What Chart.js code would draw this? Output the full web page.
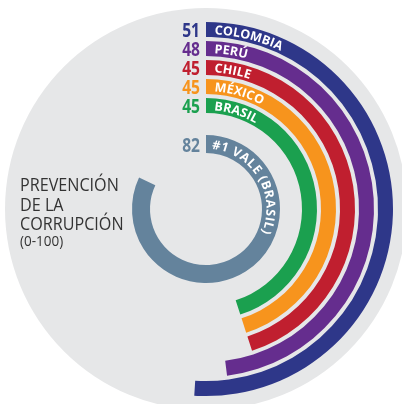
<!DOCTYPE html>
<html>
<head>
<meta charset="utf-8">
<script src="https://cdn.jsdelivr.net/npm/chart.js@4.4.0/dist/chart.umd.min.js"></script>
<style>
  html, body { margin: 0; padding: 0; background: #fff; }
  #wrap { width: 402px; height: 404px; position: relative; }
</style>
</head>
<body>
<div id="wrap"><canvas id="chart"></canvas></div>
<script>
// data (score 0-100)
const countries = ['COLOMBIA', 'PERÚ', 'CHILE', 'MÉXICO', 'BRASIL'];
const scores = [51, 48, 45, 45, 45];
const countryColors = ['#2e3789', '#652d8e', '#c01f2f', '#f7941d', '#1ba04f'];
const companyName = '#1 VALE (BRASIL)';
const companyScore = 82;
const companyColor = '#64839c';
const maxScore = 100;
const titleLines = ['PREVENCIÓN', 'DE LA', 'CORRUPCIÓN'];
const titleScale = '(0-100)';

const CLEAR = 'rgba(0,0,0,0)';
const ringWidth = 15, ringGap = 4, innerGap = 22, companyWidth = 18;

function gapRing(w) {
    return { label: '', isGap: true, data: [maxScore], backgroundColor: [CLEAR], weight: w };
}

const datasets = [];
countries.forEach((name, i) => {
    if (i > 0) datasets.push(gapRing(ringGap));
    datasets.push({
        label: name,
        data: [scores[i], maxScore - scores[i]],
        backgroundColor: [countryColors[i], CLEAR],
        weight: ringWidth,
        labelColor: countryColors[i]
    });
});
datasets.push(gapRing(innerGap));
datasets.push({
    label: companyName,
    data: [companyScore, maxScore - companyScore],
    backgroundColor: [companyColor, CLEAR],
    weight: companyWidth,
    labelColor: companyColor
});

// squeezed text, the original uses a condensed face
function condensedText(ctx, text, x, y, sx, align) {
    ctx.save();
    ctx.translate(x, y);
    ctx.scale(sx, 1);
    ctx.textAlign = align;
    ctx.fillText(text, 0, 0);
    ctx.restore();
}

// text running clockwise along a circle
function arcText(ctx, text, cx, cy, r, startAngle, spacing) {
    let a = startAngle;
    for (const ch of text) {
        const w = ctx.measureText(ch).width;
        const mid = a + (w / 2) / r;
        ctx.save();
        ctx.translate(cx, cy);
        ctx.rotate(mid + Math.PI / 2);
        ctx.textAlign = 'center';
        ctx.fillText(ch, 0, -r);
        ctx.restore();
        a += (w + spacing) / r;
    }
}

const backdrop = {
    id: 'backdrop',
    beforeDatasetsDraw(chart) {
        const arc = chart.getDatasetMeta(0).data[0];
        const ctx = chart.ctx;
        ctx.save();
        ctx.fillStyle = '#e6e7e8';
        ctx.beginPath();
        ctx.arc(arc.x, arc.y, arc.outerRadius + 14, 0, Math.PI * 2);
        ctx.fill();
        ctx.restore();
    }
};

const labels = {
    id: 'labels',
    afterDatasetsDraw(chart) {
        const ctx = chart.ctx;
        ctx.save();
        chart.data.datasets.forEach((ds, i) => {
            if (ds.isGap) return;
            const arc = chart.getDatasetMeta(i).data[0];
            const band = arc.outerRadius - arc.innerRadius;
            const isCompany = ds.label === companyName;
            const value = ds.data[0];

            // score left of the ring start
            ctx.fillStyle = ds.labelColor;
            ctx.font = 'bold 20px "Open Sans"';
            ctx.textBaseline = 'alphabetic';
            condensedText(ctx, String(value), arc.x - 6, arc.y - arc.innerRadius - (isCompany ? 1 : 0), 0.78, 'right');

            // name on the ring
            ctx.fillStyle = '#fff';
            ctx.font = isCompany ? 'bold 12.5px "Open Sans"' : 'bold 12.5px "Open Sans"';
            const baseR = arc.innerRadius + band / 2 - 4.5;
            const inset = isCompany ? 7 : 9;
            arcText(ctx, ds.label, arc.x, arc.y, baseR, arc.startAngle + inset / arc.outerRadius, isCompany ? 0.6 : 0.1);
        });

        // title on the left
        ctx.fillStyle = '#333333';
        ctx.textBaseline = 'alphabetic';
        ctx.font = '19px "Open Sans"';
        titleLines.forEach((t, k) => condensedText(ctx, t, 20, 191 + k * 19.5, 0.85, 'left'));
        ctx.font = '15px "Open Sans"';
        condensedText(ctx, titleScale, 20, 246, 0.9, 'left');
        ctx.restore();
    }
};

new Chart(document.getElementById('chart'), {
    type: 'doughnut',
    data: { labels: ['score', 'rest'], datasets },
    options: {
        responsive: true,
        maintainAspectRatio: false,
        animation: false,
        events: [],
        cutout: 56,
        radius: 187,
        layout: { padding: { left: 19, right: 9, top: 22, bottom: 8 } },
        elements: { arc: { borderWidth: 0, hoverOffset: 0, offset: 0 } },
        plugins: { legend: { display: false }, tooltip: { enabled: false } }
    },
    plugins: [backdrop, labels]
});
</script>
</body>
</html>
